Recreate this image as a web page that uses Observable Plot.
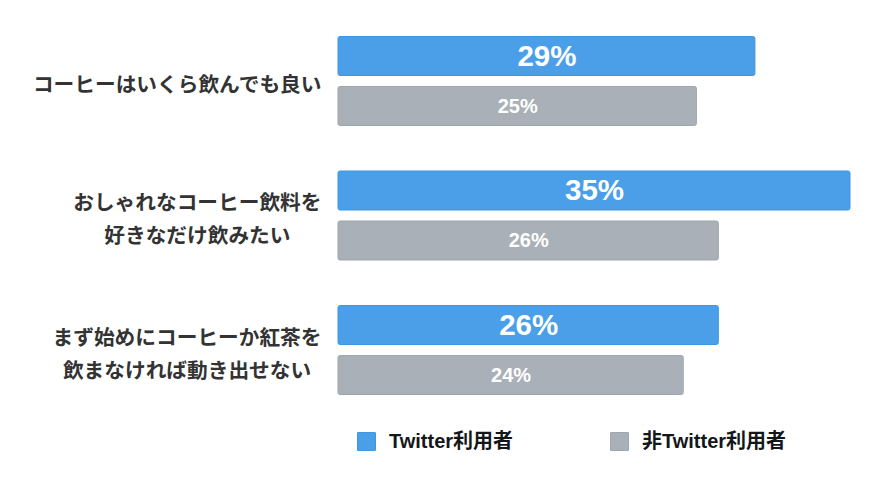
<!DOCTYPE html>
<html>
<head>
<meta charset="utf-8">
<script src="https://cdn.jsdelivr.net/npm/d3@7"></script>
<script src="https://cdn.jsdelivr.net/npm/@observablehq/plot@0.6"></script>
<style>
  html, body { margin: 0; padding: 0; background: #fff; }
  #chart { width: 894px; }
  .legend { position: relative; width: 894px; height: 76px; font-family: "Liberation Sans", Arial, "Noto Sans CJK JP", sans-serif; font-weight: bold; font-size: 20px; color: #14171a; }
  .legend .sw { position: absolute; top: 22px; width: 19px; height: 19px; box-sizing: border-box; border-radius: 1px; }
  .legend .lb { position: absolute; top: 18px; line-height: 26px; white-space: nowrap; }
</style>
</head>
<body>
<div id="chart"></div>
<script>
const questions = [
  "コーヒーはいくら飲んでも良い",
  "おしゃれなコーヒー飲料を\n好きなだけ飲みたい",
  "まず始めにコーヒーか紅茶を\n飲まなければ動き出せない"
];
const series = ["Twitter利用者", "非Twitter利用者"];
// values (labels are rounded percentages)
const twitterValues = [28.5, 35, 26];
const nonTwitterValues = [24.5, 26, 23.6];
const fills = ["#4a9fe8", "#a9b0b7"];
const strokes = ["#3f96e2", "#9ea6ae"];

const data = questions.flatMap((q, i) => [
  {q, s: series[0], v: twitterValues[i]},
  {q, s: series[1], v: nonTwitterValues[i]}
]);
const tw = data.filter(d => d.s === series[0]);
const nt = data.filter(d => d.s === series[1]);
const pct = d => Math.round(d.v) + "%";

const plot = Plot.plot({
  width: 894,
  height: 410,
  marginLeft: 338,
  marginRight: 44,
  marginTop: 36,
  marginBottom: 15,
  style: {fontFamily: "'Noto Sans CJK JP', sans-serif", background: "#fff"},
  x: {domain: [0, 35], axis: null},
  y: {domain: series, axis: null, paddingInner: 0.2, paddingOuter: 0, round: false},
  fy: {domain: questions, axis: null, paddingInner: 0.331, paddingOuter: 0, round: false},
  marks: [
    Plot.barX(tw, {fy: "q", y: "s", x: "v", fill: fills[0], stroke: strokes[0], strokeWidth: 1, rx: 2, insetTop: 0.5, insetBottom: 0.5}),
    Plot.barX(nt, {fy: "q", y: "s", x: "v", fill: fills[1], stroke: strokes[1], strokeWidth: 1, rx: 2, insetTop: 0.5, insetBottom: 0.5}),
    Plot.text(tw, {fy: "q", y: "s", x: d => d.v / 2, text: pct, fill: "white", fontSize: 29.5, fontWeight: "bold", fontFamily: "'Liberation Sans', Arial, sans-serif"}),
    Plot.text(nt, {fy: "q", y: "s", x: d => d.v / 2, text: pct, fill: "white", fontSize: 20, fontWeight: "bold", fontFamily: "'Liberation Sans', Arial, sans-serif"}),
    Plot.text(questions, {fy: d => d, text: d => d, frameAnchor: "left", textAnchor: "end", dx: -17, lineHeight: 1.6, fontSize: 20.7, fontWeight: "bold", fill: "#333", className: "qlabel"})
  ]
});
document.getElementById("chart").appendChild(plot);

// center lines of multi-line labels within their right-aligned block
plot.querySelectorAll(".qlabel text").forEach(t => {
  const spans = t.querySelectorAll("tspan");
  if (spans.length < 2) return;
  const w = Math.max(...Array.from(spans, s => s.getComputedTextLength()));
  t.setAttribute("text-anchor", "middle");
  spans.forEach(s => s.setAttribute("x", -w / 2));
});

const legend = document.createElement("div");
legend.className = "legend";
const legendX = [357, 610];
series.forEach((s, i) => {
  const sw = document.createElement("div");
  sw.className = "sw";
  sw.style.left = legendX[i] + "px";
  sw.style.background = fills[i];
  sw.style.border = "1px solid " + strokes[i];
  const lb = document.createElement("div");
  lb.className = "lb";
  lb.style.left = (legendX[i] + 32) + "px";
  lb.textContent = s;
  legend.appendChild(sw);
  legend.appendChild(lb);
});
document.body.appendChild(legend);
</script>
</body>
</html>
